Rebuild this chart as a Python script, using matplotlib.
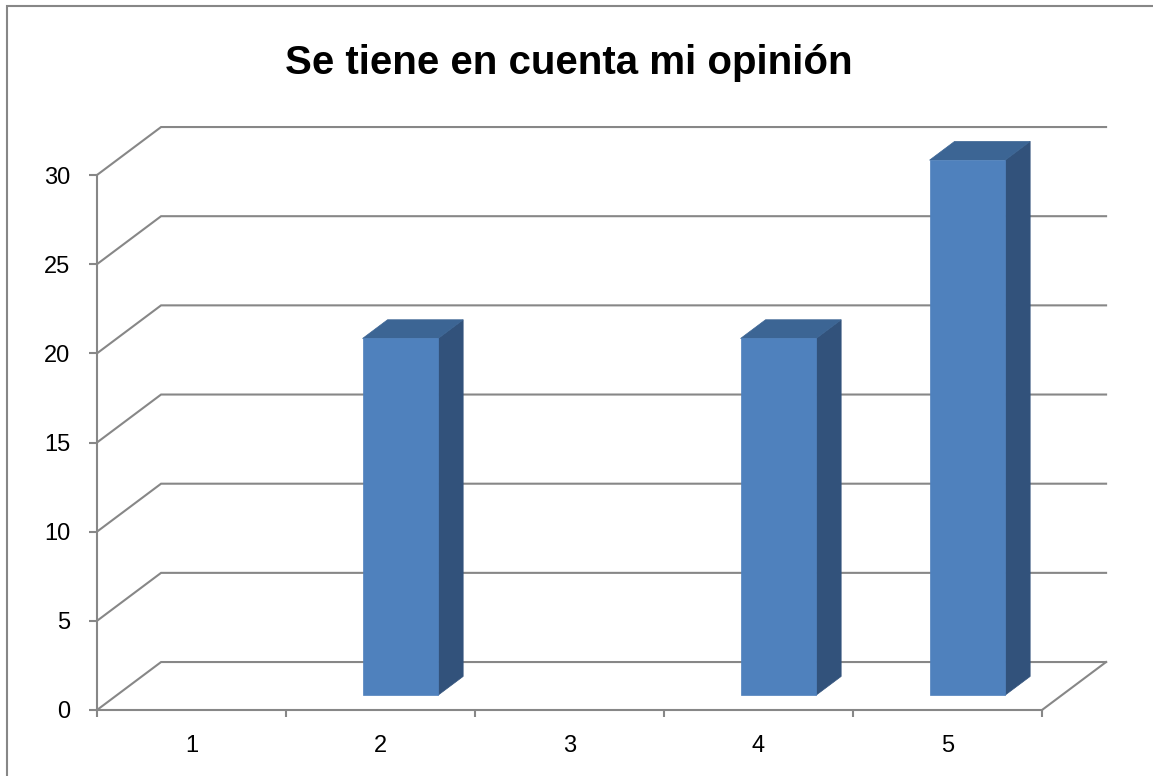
import matplotlib.pyplot as plt
from matplotlib.patches import Polygon, Rectangle

# datos de la encuesta
categorias = [1, 2, 3, 4, 5]
valores = [0, 20, 0, 20, 30]
y_ticks = [0, 5, 10, 15, 20, 25, 30]
titulo = 'Se tiene en cuenta mi opinión'

# colores estilo Excel 2007
AZUL_FRENTE = '#4F81BD'
AZUL_TECHO = '#3C6594'
AZUL_LADO = '#32527B'
GRIS = '#878787'

# perspectiva: desplazamiento de la pared del fondo (unidades de datos)
PROF_X = 0.339
PROF_Y = 2.69
# columna ocupa de 0.31 a 0.70 de la profundidad, ancho 0.4 de la categoría
PROF_INI, PROF_FIN = 0.31, 0.70
ANCHO = 0.40

plt.rcParams['font.family'] = ['Liberation Sans', 'DejaVu Sans']

fig = plt.figure(figsize=(11.53, 7.76), dpi=100)
W, H = 1153, 776
ax = fig.add_axes([97 / W, (H - 710) / H, (1042 - 97) / W, (710 - 175) / H])
ax.set_xlim(0.5, len(categorias) + 0.5)
ax.set_ylim(0, max(y_ticks))
ax.patch.set_visible(False)


def proy(x, y, d):
    return (x + d * PROF_X, y + d * PROF_Y)


x0, x1 = 0.5, len(categorias) + 0.5
# pared del fondo y suelo: líneas de cuadrícula en perspectiva
for v in y_ticks:
    pts = [proy(x0, v, 0), proy(x0, v, 1), proy(x1, v, 1)]
    ax.plot([p[0] for p in pts], [p[1] for p in pts], color=GRIS, lw=1.5,
            clip_on=False, zorder=1, solid_joinstyle='miter')
# borde derecho del suelo
pts = [proy(x1, 0, 0), proy(x1, 0, 1)]
ax.plot([p[0] for p in pts], [p[1] for p in pts], color=GRIS, lw=1.5,
        clip_on=False, zorder=1)

# columnas 3D
for c, v in zip(categorias, valores):
    if v == 0:
        continue
    l, r = c - ANCHO / 2, c + ANCHO / 2
    frente = [proy(l, 0, PROF_INI), proy(r, 0, PROF_INI),
              proy(r, v, PROF_INI), proy(l, v, PROF_INI)]
    techo = [proy(l, v, PROF_INI), proy(r, v, PROF_INI),
             proy(r, v, PROF_FIN), proy(l, v, PROF_FIN)]
    lado = [proy(r, 0, PROF_INI), proy(r, 0, PROF_FIN),
            proy(r, v, PROF_FIN), proy(r, v, PROF_INI)]
    for cara, col in [(lado, AZUL_LADO), (techo, AZUL_TECHO), (frente, AZUL_FRENTE)]:
        ax.add_patch(Polygon(cara, closed=True, facecolor=col, edgecolor=col,
                             lw=0.5, clip_on=False, zorder=3))

# ejes frontales
for s in ['top', 'right']:
    ax.spines[s].set_visible(False)
for s in ['left', 'bottom']:
    ax.spines[s].set_color(GRIS)
    ax.spines[s].set_linewidth(1.5)
    ax.spines[s].set_zorder(2)

ax.set_yticks(y_ticks)
ax.set_yticklabels([str(t) for t in y_ticks])
ax.tick_params(axis='y', length=6, width=1.5, color=GRIS, pad=13,
               labelsize=17, labelcolor='black')
ax.set_xticks(categorias)
ax.set_xticklabels([str(c) for c in categorias])
ax.set_xticks([x0 + i for i in range(len(categorias) + 1)], minor=True)
ax.tick_params(axis='x', which='major', length=0, pad=18,
               labelsize=17, labelcolor='black')
ax.tick_params(axis='x', which='minor', length=5, width=1.5, color=GRIS)

fig.text(568.5 / W, 1 - 74 / H, titulo, ha='center', va='baseline',
         fontsize=29, fontweight='bold')

# marco del gráfico
fig.patches.append(Rectangle((6.5 / W, -0.1), 1.2, (H - 6.5) / H + 0.1,
                             transform=fig.transFigure, fill=False,
                             edgecolor=GRIS, lw=1.5))

fig.savefig('out.png', dpi=100)
